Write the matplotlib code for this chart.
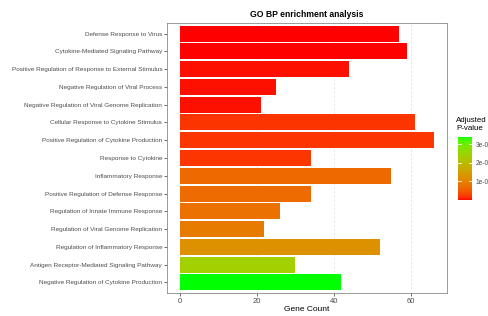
import numpy as np
import matplotlib
matplotlib.use("Agg")
import matplotlib.pyplot as plt
from matplotlib.colors import ListedColormap, Normalize

plt.rcParams['font.family'] = ['Liberation Sans', 'DejaVu Sans']

terms = [
    "Defense Response to Virus",
    "Cytokine-Mediated Signaling Pathway",
    "Positive Regulation of Response to External Stimulus",
    "Negative Regulation of Viral Process",
    "Negative Regulation of Viral Genome Replication",
    "Cellular Response to Cytokine Stimulus",
    "Positive Regulation of Cytokine Production",
    "Response to Cytokine",
    "Inflammatory Response",
    "Positive Regulation of Defense Response",
    "Regulation of Innate Immune Response",
    "Regulation of Viral Genome Replication",
    "Regulation of Inflammatory Response",
    "Antigen Receptor-Mediated Signaling Pathway",
    "Negative Regulation of Cytokine Production",
]
counts = [57, 59, 44, 25, 21, 61, 66, 34, 55, 34, 26, 22, 52, 30, 42]
# adjusted p-values (x1e-05)
padj = [0.005, 0.006, 0.035, 0.038, 0.04, 0.18, 0.19, 0.2, 0.67, 0.69, 0.78, 0.91, 1.25, 2.39, 3.37]
cbar_ticks = [1, 2, 3]


def srgb_to_lab(rgb):
    rgb = np.asarray(rgb, float)
    lin = np.where(rgb <= 0.04045, rgb / 12.92, ((rgb + 0.055) / 1.055) ** 2.4)
    m = np.array([[0.4124, 0.3576, 0.1805],
                  [0.2126, 0.7152, 0.0722],
                  [0.0193, 0.1192, 0.9505]])
    xyz = m @ lin / np.array([0.95047, 1.0, 1.08883])
    f = np.where(xyz > 0.008856, np.cbrt(xyz), 7.787 * xyz + 16 / 116)
    return np.array([116 * f[1] - 16, 500 * (f[0] - f[1]), 200 * (f[1] - f[2])])


def lab_to_srgb(lab):
    L, a, b = lab
    fy = (L + 16) / 116
    fx = fy + a / 500
    fz = fy - b / 200
    f = np.array([fx, fy, fz])
    xyz = np.where(f ** 3 > 0.008856, f ** 3, (f - 16 / 116) / 7.787)
    xyz = xyz * np.array([0.95047, 1.0, 1.08883])
    minv = np.array([[3.2406, -1.5372, -0.4986],
                     [-0.9689, 1.8758, 0.0415],
                     [0.0557, -0.2040, 1.0570]])
    lin = minv @ xyz
    lin = np.clip(lin, 0, 1)
    rgb = np.where(lin <= 0.0031308, 12.92 * lin, 1.055 * lin ** (1 / 2.4) - 0.055)
    return np.clip(rgb, 0, 1)


# red -> green gradient interpolated in Lab space (like ggplot's scale_fill_gradient)
lo, hi = srgb_to_lab([1, 0, 0]), srgb_to_lab([0, 1, 0])
cmap = ListedColormap([lab_to_srgb(lo + t * (hi - lo)) for t in np.linspace(0, 1, 256)])
norm = Normalize(vmin=min(padj), vmax=max(padj))

fig = plt.figure(figsize=(4.88, 3.16), dpi=100)
ax = fig.add_axes([167 / 488, 1 - 293 / 316, 279.5 / 488, 270 / 316])

ypos = np.arange(len(terms))[::-1]
ax.barh(ypos, counts, height=0.9, color=cmap(norm(padj)), zorder=3)
ax.set_yticks(ypos)
ax.set_yticklabels(terms, fontsize=4.6, color='#4d4d4d')
ax.set_ylim(-0.6, len(terms) - 0.4)
ax.set_xlim(-3.3, 69.3)
ax.set_xticks([0, 20, 40, 60])
ax.tick_params(axis='x', labelsize=5.5, labelcolor='#4d4d4d', length=2, width=0.5, color='#333333', pad=1.5)
ax.tick_params(axis='y', length=2, width=0.5, color='#333333', pad=1.5)
ax.xaxis.grid(True, linestyle=(0, (3, 3)), color='#dcdcdc', linewidth=0.5, zorder=0)
for s in ax.spines.values():
    s.set_color('#8a8a8a')
    s.set_linewidth(0.6)
ax.set_xlabel("Gene Count", fontsize=6, labelpad=1)
ax.set_title("GO BP enrichment analysis", fontsize=6.2, fontweight='bold', pad=4)

# colour bar legend
cax = fig.add_axes([458 / 488, 1 - 200 / 316, 13.5 / 488, 62.7 / 316])
grad = np.linspace(norm.vmin, norm.vmax, 256).reshape(-1, 1)
cax.imshow(grad, aspect='auto', cmap=cmap, norm=norm, origin='lower',
           extent=[0, 1, norm.vmin, norm.vmax])
cax.set_xticks([])
cax.set_yticks(cbar_ticks)
cax.set_yticklabels(["%de-05" % t for t in cbar_ticks], fontsize=4.8, color='#4d4d4d')
cax.yaxis.tick_right()
cax.tick_params(axis='y', length=0, pad=3)
for t in cbar_ticks:
    cax.plot([0, 0.2], [t, t], color='white', lw=0.6)
    cax.plot([0.8, 1], [t, t], color='white', lw=0.6)
cax.set_xlim(0, 1)
cax.set_ylim(norm.vmin, norm.vmax)
for s in cax.spines.values():
    s.set_visible(False)
fig.text(456 / 488, 1 - 132.5 / 316, "Adjusted\nP-value", fontsize=5.7, ha='left', va='bottom',
         linespacing=1.2)

fig.savefig("out.png", dpi=100)
